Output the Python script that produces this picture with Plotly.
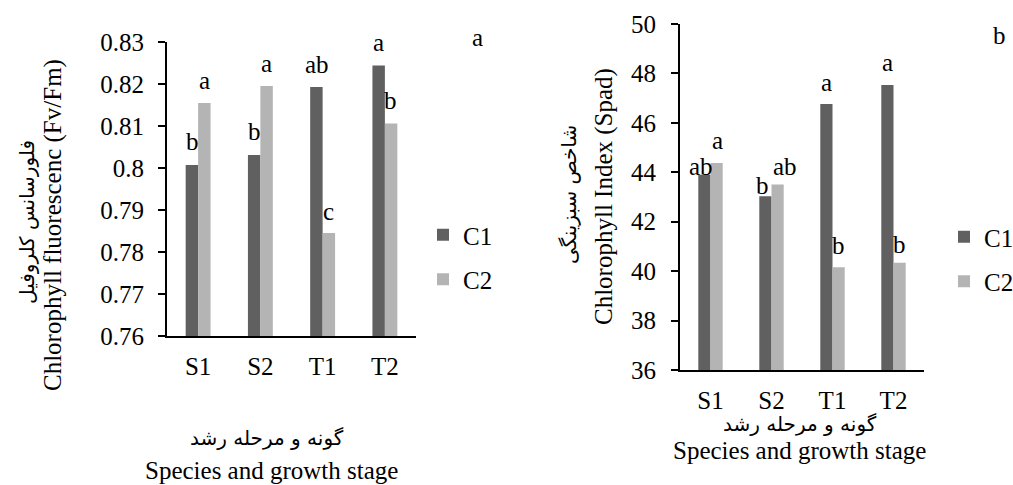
import plotly.graph_objects as go

# ---------------- data ----------------
categories = ["S1", "S2", "T1", "T2"]
series_names = ["C1", "C2"]

fvfm_c1 = [0.8007, 0.8031, 0.8193, 0.8244]
fvfm_c2 = [0.8155, 0.8195, 0.7845, 0.8106]
fvfm_letters_c1 = ["b", "b", "ab", "a"]
fvfm_letters_c2 = ["a", "a", "c", "b"]

spad_c1 = [43.90, 43.03, 46.76, 47.53]
spad_c2 = [44.38, 43.51, 40.16, 40.34]
spad_letters_c1 = ["ab", "b", "a", "a"]
spad_letters_c2 = ["a", "ab", "b", "b"]

fvfm_tickvals = [0.76, 0.77, 0.78, 0.79, 0.80, 0.81, 0.82, 0.83]
fvfm_ticktext = ["0.76", "0.77", "0.78", "0.79", "0.8", "0.81", "0.82", "0.83"]
spad_tickvals = [36, 38, 40, 42, 44, 46, 48, 50]

# ---------------- styling ----------------
W, H = 1013, 485
SERIF = "Liberation Serif, Times New Roman, serif"
FA = "DejaVu Sans, Liberation Serif, serif"
C1_COLOR = "#606060"
C2_COLOR = "#b4b4b4"
TICK_SIZE = 25
TITLE_SIZE = 25
FA_SIZE = 20


def px_x(p):
    return p / W


def px_y(p):
    return 1 - p / H


fig = go.Figure()

# left chart traces
fig.add_trace(go.Bar(x=categories, y=fvfm_c1, name=series_names[0], marker_color=C1_COLOR,
                     xaxis="x", yaxis="y", legend="legend", legendgroup="l1"))
fig.add_trace(go.Bar(x=categories, y=fvfm_c2, name=series_names[1], marker_color=C2_COLOR,
                     xaxis="x", yaxis="y", legend="legend", legendgroup="l2"))
# right chart traces
fig.add_trace(go.Bar(x=categories, y=spad_c1, name=series_names[0], marker_color=C1_COLOR,
                     xaxis="x2", yaxis="y2", legend="legend2", legendgroup="r1"))
fig.add_trace(go.Bar(x=categories, y=spad_c2, name=series_names[1], marker_color=C2_COLOR,
                     xaxis="x2", yaxis="y2", legend="legend2", legendgroup="r2"))

fig.update_traces(marker_line_width=0, hoverinfo="x+y+name")

axis_common = dict(showline=True, linecolor="black", linewidth=2, showgrid=False, zeroline=False,
                   automargin=False,
                   tickfont=dict(family=SERIF, size=TICK_SIZE, color="black"))

annotations = []

# significance letters: (dx, dy) offsets in px relative to the bar top centre
bar_half = 6
left_offsets_c1 = [(0, 24), (0, 23), (0, 22), (0, 23)]
left_offsets_c2 = [(0, 22), (0, 23), (0, 22), (0, 23)]
right_offsets_c1 = [(-4, 8), (-3, 11), (0, 22), (0, 23)]
right_offsets_c2 = [(1, 22), (7, 18), (0, 22), (0, 18)]


def add_letters(xref, yref, vals, letters, offsets, side):
    for cat, v, t, (dx, dy) in zip(categories, vals, letters, offsets):
        annotations.append(dict(
            x=cat, y=v, xref=xref, yref=yref, text=t, showarrow=False,
            xshift=side * bar_half + dx, yshift=dy, xanchor="center", yanchor="middle",
            font=dict(family=SERIF, size=TICK_SIZE, color="black")))


add_letters("x", "y", fvfm_c1, fvfm_letters_c1, left_offsets_c1, -1)
add_letters("x", "y", fvfm_c2, fvfm_letters_c2, left_offsets_c2, 1)
add_letters("x2", "y2", spad_c1, spad_letters_c1, right_offsets_c1, -1)
add_letters("x2", "y2", spad_c2, spad_letters_c2, right_offsets_c2, 1)


def paper_text(x, y, text, size, family, angle=0):
    annotations.append(dict(x=px_x(x), y=px_y(y), xref="paper", yref="paper", text=text,
                            showarrow=False, xanchor="center", yanchor="middle", textangle=angle,
                            font=dict(family=family, size=size, color="black")))


# axis titles (two-language)
paper_text(27, 222, "فلورسانس کلروفیل", FA_SIZE, FA, -90)
paper_text(53, 225, "Chlorophyll fluorescenc (Fv/Fm)", TITLE_SIZE, SERIF, -90)
paper_text(267, 438, "گونه و مرحله رشد", FA_SIZE, FA)
paper_text(271, 470, "Species and growth stage", TITLE_SIZE, SERIF)

paper_text(569, 195, "شاخص سبزینگی", FA_SIZE, FA, -90)
paper_text(604, 197, "Chlorophyll Index (Spad)", TITLE_SIZE, SERIF, -90)
paper_text(800, 424, "گونه و مرحله رشد", FA_SIZE, FA)
paper_text(799, 450, "Species and growth stage", TITLE_SIZE, SERIF)

# panel labels
paper_text(477, 38, "a", TICK_SIZE, SERIF)
paper_text(999, 36, "b", TICK_SIZE, SERIF)

legend_common = dict(font=dict(family=SERIF, size=TICK_SIZE, color="black"),
                     bgcolor="rgba(0,0,0,0)", traceorder="grouped", tracegroupgap=9,
                     xanchor="left", yanchor="top", itemclick=False, itemdoubleclick=False)

fig.update_layout(
    width=W, height=H,
    margin=dict(l=0, r=0, t=0, b=0, autoexpand=False),
    paper_bgcolor="white", plot_bgcolor="white",
    barmode="group", bargap=0.6, bargroupgap=0,
    showlegend=True,
    xaxis=dict(domain=[px_x(167), px_x(416)], anchor="y", ticks="", ticklabelstandoff=7,
               **axis_common),
    yaxis=dict(domain=[px_y(336), px_y(42)], anchor="x", range=[0.76, 0.83],
               tickmode="array", tickvals=fvfm_tickvals, ticktext=fvfm_ticktext,
               ticks="outside", ticklen=7, tickwidth=1.5, tickcolor="black", ticklabelstandoff=9,
               **axis_common),
    xaxis2=dict(domain=[px_x(680), px_x(924)], anchor="y2", ticks="", ticklabelstandoff=7,
                **axis_common),
    yaxis2=dict(domain=[px_y(370), px_y(24)], anchor="x2", range=[36, 50],
                tickmode="array", tickvals=spad_tickvals,
                ticks="outside", ticklen=7, tickwidth=1.5, tickcolor="black", ticklabelstandoff=10,
                **axis_common),
    legend=dict(x=px_x(423), y=px_y(212), **legend_common),
    legend2=dict(x=px_x(944), y=px_y(214), **legend_common),
    annotations=annotations,
)

fig.write_html("out.html")
